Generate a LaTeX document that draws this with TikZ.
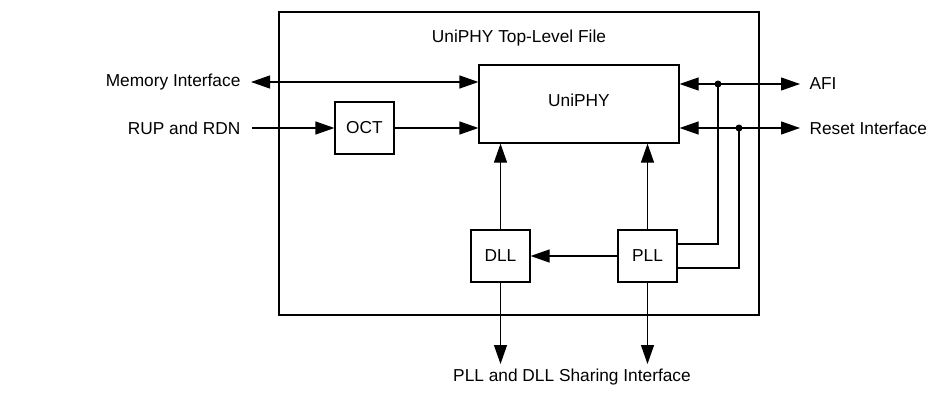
\documentclass[tikz,border=0pt]{standalone}
\usepackage{fontspec}
\setmainfont{Liberation Sans}
\usetikzlibrary{arrows.meta}
\begin{document}
\begin{tikzpicture}[x=1pt,y=-1pt,
  line width=1.2pt,
  every node/.style={font=\fontsize{17.3}{20}\selectfont, inner sep=0pt},
  blk/.style={draw, rectangle, inner sep=0pt},
  arr/.style={-{Triangle[length=19pt,width=13pt]}},
  barr/.style={{Triangle[length=19pt,width=13pt]}-{Triangle[length=19pt,width=13pt]}},
  dot/.style={circle, fill, minimum size=7pt, inner sep=0pt}]
\useasboundingbox (0,0) rectangle (931,404);
% outer box
\node[blk, minimum width=480pt, minimum height=303pt] (top) at (519,163.5) {};
\node (toptxt) at (519,38) {UniPHY Top-Level File};
% blocks
\node[blk, minimum width=200pt, minimum height=78pt] (uni) at (579,104) {};
\node (unitxt) at (579,100) {UniPHY};
\node[blk, minimum width=59pt, minimum height=52pt] (oct) at (364.5,128) {OCT};
\node[blk, minimum width=59pt, minimum height=52pt] (dll) at (500.5,256) {DLL};
\node[blk, minimum width=59pt, minimum height=52pt] (pll) at (647.5,256) {PLL};
% outside texts
\node[anchor=east] (mem) at (241,82) {Memory Interface};
\node[anchor=east] (rup) at (241,128) {RUP and RDN};
\node[anchor=west] (afi) at (809,84) {AFI};
\node[anchor=west] (rst) at (809,128) {Reset Interface};
\node (share) at (572,377) {PLL and DLL Sharing Interface};
% coordinates
\coordinate (memL) at (251,82);
\coordinate (rupL) at (252,128);
\coordinate (afiR) at (800,84);
\coordinate (rstR) at (800,128);
\coordinate (dllD) at (500.5,364);
\coordinate (pllD) at (647.5,364);
\coordinate (j1) at (718,84);
\coordinate (j2) at (739,128);
% connectors
\draw[barr] (memL) -- (memL -| uni.west);
\draw[arr] (rupL) -- (oct.west);
\draw[arr] (oct.east) -- (oct.east -| uni.west);
\draw[barr] (uni.east |- afiR) -- (afiR);
\draw[barr] (uni.east |- rstR) -- (rstR);
\draw[arr] (dll.north) -- (dll.north |- uni.south);
\draw[arr] (pll.north) -- (pll.north |- uni.south);
\draw[arr] (pll.west) -- (dll.east);
\draw[arr] (dll.south) -- (dllD);
\draw[arr] (pll.south) -- (pllD);
\draw (pll.east |- 0,244) -- (j1 |- 0,244) -- (j1);
\draw (pll.east |- 0,268) -- (j2 |- 0,268) -- (j2);
\node[dot] at (j1) {};
\node[dot] at (j2) {};
\end{tikzpicture}
\end{document}
